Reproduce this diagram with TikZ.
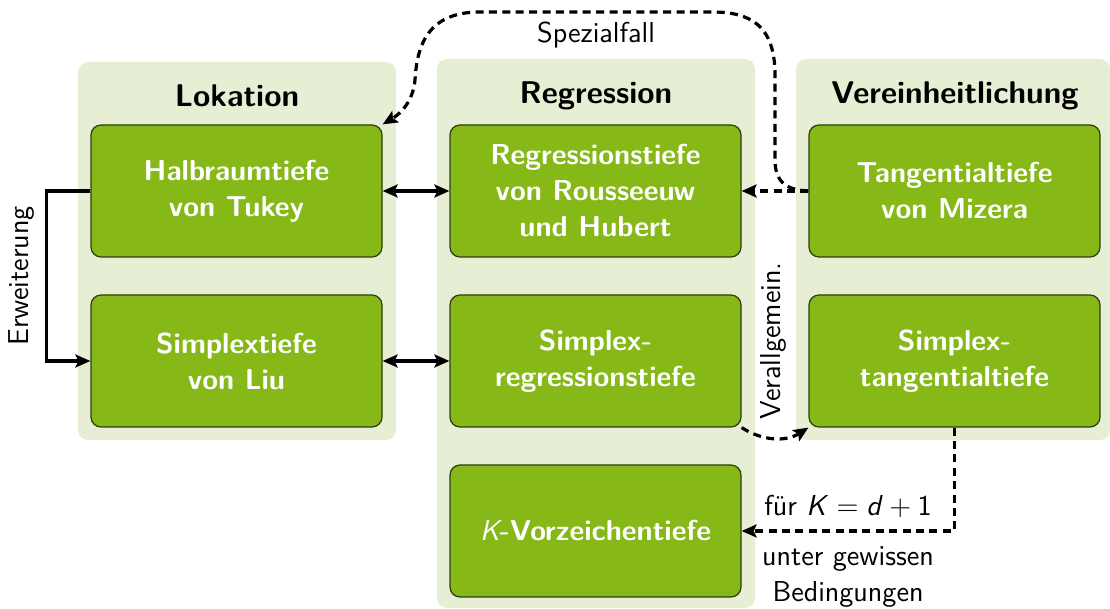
\documentclass[tikz,border=0pt]{standalone}
\usepackage{fontspec}
\usetikzlibrary{arrows.meta}
\definecolor{boxgreen}{RGB}{134,184,23}
\definecolor{bggreen}{RGB}{230,239,212}
\definecolor{boxborder}{RGB}{45,60,15}
\begin{document}
\begin{tikzpicture}[x=0.5pt,y=-0.5pt,
  font=\sffamily\Large,
  >={Stealth[length=7.5pt,width=6.5pt,inset=1.5pt]},
  depthbox/.style={draw=boxborder, line width=0.6pt, fill=boxgreen, rounded corners=5pt,
    minimum width=145.5pt, minimum height=66pt, text=white,
    font=\sffamily\Large\bfseries, align=center, inner sep=0pt},
  groupbg/.style={fill=bggreen, rounded corners=5pt},
  grouptitle/.style={font=\sffamily\fontsize{15.7}{19}\selectfont\bfseries, anchor=base, inner sep=0pt},
  solidarrow/.style={line width=1.6pt},
  dasharrow/.style={line width=1.6pt, dash pattern=on 4pt off 2.7pt},
  lbl/.style={font=\sffamily\Large, inner sep=0pt}
]
\useasboundingbox (0,0) rectangle (1110,609);
% group backgrounds
\fill[groupbg] (78,62) rectangle (396,440);
\fill[groupbg] (437,59) rectangle (755,608);
\fill[groupbg] (796,59) rectangle (1110,440);
\node[grouptitle] (tlok) at (237,107) {Lokation};
\node[grouptitle] (treg) at (596,104) {Regression};
\node[grouptitle] (tver) at (955,104) {Vereinheitlichung};
% boxes
\node[depthbox] (halb) at (236.5,191) {Halbraumtiefe\\von Tukey};
\node[depthbox] (simp) at (236.5,361) {Simplextiefe\\von Liu};
\node[depthbox] (reg)  at (595.5,191) {Regressionstiefe\\von Rousseeuw\\und Hubert};
\node[depthbox] (sreg) at (595.5,361) {Simplex-\\regressionstiefe};
\node[depthbox] (kvz)  at (595.5,531) {{\mdseries\itshape K}-Vorzeichentiefe};
\node[depthbox] (tang) at (954.5,191) {Tangentialtiefe\\von Mizera};
\node[depthbox] (stan) at (954.5,361) {Simplex-\\tangentialtiefe};
% connectors
\draw[solidarrow,<->] (halb) -- (reg);
\draw[solidarrow,<->] (simp) -- (sreg);
\draw[solidarrow,->] (halb.west) -- ++(-44,0) |- (simp.west)
  node[pos=0.25, rotate=90, anchor=south, lbl, inner sep=5pt] {Erweiterung};
\draw[dasharrow,->] (tang.west) -- (reg.east);
\draw[dasharrow,->] (tang.west) .. controls (790,190) and (775,185) .. (775,160)
  -- (775,75) .. controls (775,25) and (750,12) .. (712,12)
  -- (480,12) node[midway, below=4pt, lbl] {Spezialfall}
  .. controls (428,12) and (417,45) .. (415,80)
  .. controls (413,102) and (400,114) .. (halb.north east);
\draw[dasharrow,->] (sreg.south east) .. controls +(22,14) and +(-22,14) .. (stan.south west);
\node[lbl, rotate=90] (verallg) at (773,341) {Verallgemein.};
\draw[dasharrow,->] (stan.south) |- (kvz.east)
  node[pos=0.75, above=6pt, lbl] {für \textit{K}\;$=$\;\textit{d}\:$+$\:1}
  node[pos=0.75, below=7pt, lbl, align=center] {unter gewissen\\Bedingungen};
\end{tikzpicture}
\end{document}
